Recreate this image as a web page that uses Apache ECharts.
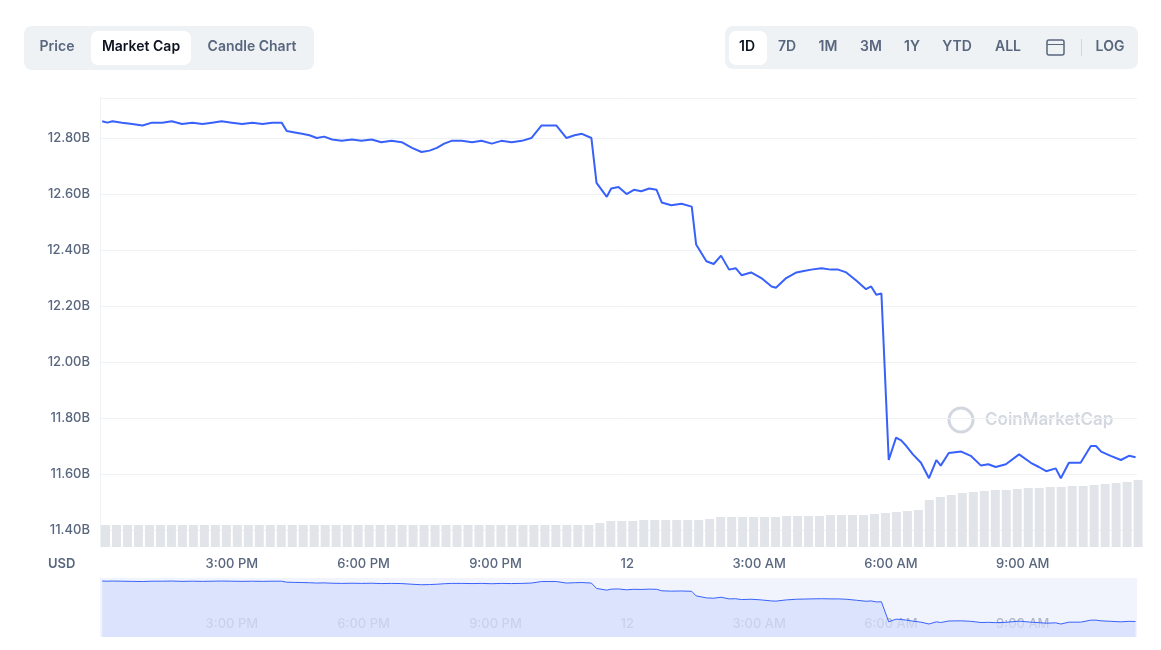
<!DOCTYPE html>
<html><head><meta charset="utf-8">
<script src="https://cdn.jsdelivr.net/npm/echarts@6/dist/echarts.min.js"></script>
<style>html,body{margin:0;padding:0;background:#fff}#c{width:1161px;height:650px}</style>
</head><body><div id="c"></div>
<script>
// minutes after 12:00 PM (day 11) and market cap in billions USD
const minutes = [3,10,17,30,44,58,71,85,98,112,126,140,153,166,180,194,208,222,235,248,255,266,276,286,296,306,317,330,344,357,371,384,398,412,426,439,450,460,470,480,494,508,521,535,548,562,576,589,603,613,623,637,648,658,671,678,692,698,708,719,729,739,750,760,767,780,794,808,814,828,838,848,859,868,876,889,903,917,923,937,951,961,971,985,998,1008,1019,1033,1046,1053,1060,1067,1077,1087,1094,1101,1110,1121,1132,1142,1148,1159,1176,1189,1203,1213,1223,1237,1255,1271,1282,1292,1305,1312,1323,1339,1353,1360,1367,1380,1394,1405,1414];
const marketCap = [12.86,12.855,12.86,12.855,12.85,12.845,12.855,12.855,12.86,12.85,12.855,12.85,12.855,12.86,12.855,12.85,12.855,12.85,12.855,12.855,12.825,12.82,12.815,12.81,12.80,12.805,12.795,12.79,12.795,12.79,12.795,12.785,12.79,12.785,12.765,12.75,12.755,12.765,12.78,12.79,12.79,12.785,12.79,12.78,12.79,12.785,12.79,12.80,12.845,12.845,12.845,12.80,12.81,12.815,12.80,12.64,12.59,12.62,12.625,12.60,12.615,12.61,12.62,12.615,12.57,12.56,12.565,12.555,12.42,12.36,12.35,12.38,12.33,12.335,12.31,12.32,12.30,12.27,12.265,12.30,12.32,12.325,12.33,12.335,12.33,12.33,12.32,12.29,12.26,12.27,12.24,12.245,11.65,11.73,11.72,11.70,11.67,11.64,11.585,11.65,11.63,11.675,11.68,11.665,11.63,11.635,11.625,11.635,11.67,11.64,11.625,11.61,11.62,11.585,11.64,11.64,11.70,11.70,11.68,11.665,11.65,11.665,11.66];
// volume per 15 minutes (relative units)
const volume = [22,22,22,22,22,22,22,22,22,22,22,22,22,22,22,22,22,22,22,22,22,22,22,22,22,22,22,22,22,22,22,22,22,22,22,22,22,22,22,22,22,22,22,22,22,24,26,26,26,27,27,27,27,27,27,28,30,30,30,30,30,30,31,31,31,31,32,32,32,32,33,34,35,36,37,47,50,52,54,55,56,57,57,58,59,59,60,60,61,61,62,63,64,65,67];
const xTicks = {180:'3:00 PM',360:'6:00 PM',540:'9:00 PM',720:'12',900:'3:00 AM',1080:'6:00 AM',1260:'9:00 AM'};

const lineData = minutes.map((m,i)=>[m,marketCap[i]]);
const volData = volume.map((v,i)=>[i*15+7.5,v]);
const gray='#58667e', font='Inter';
const chart = echarts.init(document.getElementById('c'));
const xLab = {color:gray,fontFamily:font,fontSize:13,fontWeight:500,showMinLabel:false,showMaxLabel:false,formatter:v=>xTicks[v]||''};
const gfx=[
 {type:'rect',shape:{x:24,y:26,width:290,height:44,r:8},style:{fill:'#eff2f5'}},
 {type:'rect',shape:{x:91,y:31,width:100,height:34,r:7},style:{fill:'#fff'}},
 {type:'rect',shape:{x:725,y:26,width:413,height:43,r:8},style:{fill:'#eff2f5'}},
 {type:'rect',shape:{x:729,y:31,width:38,height:34,r:7},style:{fill:'#fff'}},
 {type:'rect',shape:{x:1081,y:39,width:1,height:17},style:{fill:'#cfd6e4'}},
 {type:'rect',shape:{x:1047,y:40,width:17,height:15,r:2},style:{fill:'none',stroke:gray,lineWidth:1.5}},
 {type:'rect',shape:{x:1047,y:44,width:17,height:1},style:{fill:gray}},
 {type:'circle',shape:{cx:961,cy:420,r:12},style:{fill:'none',stroke:'#d3d8e0',lineWidth:3}},
 {type:'text',x:985,y:420,style:{text:'CoinMarketCap',fill:'#d3d8e0',font:'600 17px Inter',textVerticalAlign:'middle'}},
 {type:'text',x:48,y:564,style:{text:'USD',fill:gray,font:'600 13px Inter',textVerticalAlign:'middle'}},
];
[['Price',57,0],['Market Cap',141,1],['Candle Chart',252,0],['1D',747,1],['7D',787,0],['1M',828,0],['3M',871,0],['1Y',912,0],['YTD',957,0],['ALL',1008,0],['LOG',1110,0]].forEach(([t,x,on])=>{
 gfx.push({type:'text',x:x,y:47,style:{text:t,fill:on?'#0d1421':gray,font:'600 14px Inter',textAlign:'center',textVerticalAlign:'middle'}});
});
chart.setOption({
 animation:false,
 graphic:gfx,
 grid:[{left:100,right:24,top:98,bottom:120},{left:100,right:24,top:578,bottom:13},{left:100,right:24,top:98,bottom:103}],
 xAxis:[
  {type:'value',gridIndex:0,min:0,max:1416,show:false},
  {type:'value',gridIndex:1,min:0,max:1416,interval:180,axisLine:{show:false},axisTick:{show:false},splitLine:{show:false},axisLabel:Object.assign({inside:true,margin:6},xLab)},
  {type:'value',gridIndex:2,min:0,max:1416,interval:180,axisLine:{show:false},axisTick:{show:false},splitLine:{show:false},axisLabel:Object.assign({margin:11},xLab)}
 ],
 yAxis:[
  {type:'value',gridIndex:0,min:11.4,max:12.943,interval:0.2,axisLine:{show:false},axisTick:{show:false},splitLine:{lineStyle:{color:'#eff2f5'}},
   axisLabel:{color:gray,fontFamily:font,fontSize:13,fontWeight:500,margin:10,showMaxLabel:false,formatter:v=>v.toFixed(2)+'B'}},
  {type:'value',gridIndex:1,min:11.2,max:12.95,show:false},
  {type:'value',gridIndex:2,min:0,max:449,axisLine:{show:true,lineStyle:{color:'#eff2f5'}},axisLabel:{show:false},axisTick:{show:false},splitLine:{show:false}}
 ],
 series:[
  {type:'bar',xAxisIndex:2,yAxisIndex:2,data:volData,barWidth:9,itemStyle:{color:'#e1e4e9'}},
  {type:'line',xAxisIndex:0,yAxisIndex:0,data:lineData,showSymbol:false,lineStyle:{color:'#3861fb',width:2}},
  {type:'line',xAxisIndex:1,yAxisIndex:1,data:lineData,showSymbol:false,lineStyle:{color:'#3861fb',width:1},areaStyle:{color:'#d4ddfc',origin:'start'},
   markArea:{silent:true,itemStyle:{color:'rgba(232,237,252,0.6)'},data:[[{xAxis:0},{xAxis:1416}]]}}
 ]
});
</script></body></html>
